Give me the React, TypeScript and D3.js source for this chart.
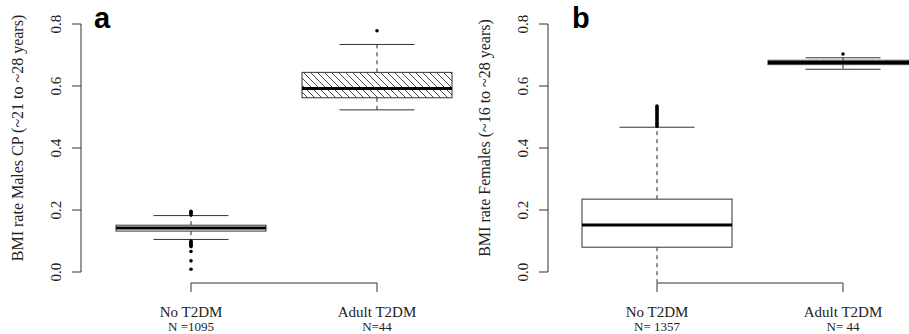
import * as d3 from "d3"

// group labels and counts
const groups = ["No T2DM", "Adult T2DM"]
const malesCounts = ["N =1095", "N=44"]
const femalesCounts = ["N= 1357", "N= 44"]
const yTicks = [0, 0.2, 0.4, 0.6, 0.8]

// five-number summaries: [lower whisker, q1, median, q3, upper whisker]
const malesNoT2dm = [0.105, 0.132, 0.142, 0.151, 0.182]
const malesAdultT2dm = [0.523, 0.562, 0.592, 0.644, 0.734]
const femalesNoT2dm = [-0.06, 0.08, 0.152, 0.235, 0.467]
const femalesAdultT2dm = [0.654, 0.669, 0.676, 0.683, 0.691]

// outliers
const malesNoOut = [0.184, 0.188, 0.192, 0.196, 0.1, 0.097, 0.094, 0.091, 0.088, 0.085, 0.082, 0.066, 0.036, 0.009]
const malesAdultOut = [0.778]
const femalesNoOut = [0.47, 0.475, 0.48, 0.485, 0.49, 0.495, 0.5, 0.505, 0.51, 0.515, 0.52, 0.525, 0.53, 0.535]
const femalesAdultOut = [0.703]

const serif = "'Liberation Serif', 'DejaVu Serif', serif"

type PanelProps = {
  id: string
  letter: string
  title: string
  axisX: number
  xRange: [number, number]
  counts: string[]
  stats: number[][]
  outliers: number[][]
  hatched: boolean[]
  letterX: number
}

function Panel({ id, letter, title, axisX, xRange, counts, stats, outliers, hatched, letterX }: PanelProps) {
  const y = d3.scaleLinear().domain([0, 0.8]).range([272, 24])
  const x = d3.scalePoint<string>().domain(groups).range(xRange)
  const axisY = 283
  const boxW = 150
  const capW = 75
  const line = d3.line<[number, number]>()

  return (
    <g>
      <defs>
        <clipPath id={`clip-${id}`}>
          <rect x={axisX} y={0} width={909} height={axisY - 0.5} />
        </clipPath>
      </defs>

      {/* y axis */}
      <path d={line([[axisX, y(0.8)], [axisX, y(0)]]) || ""} stroke="#333" fill="none" />
      {yTicks.map((t) => (
        <g key={t}>
          <path d={line([[axisX - 9, y(t)], [axisX, y(t)]]) || ""} stroke="#333" />
          <text
            transform={`translate(${axisX - 20},${y(t)}) rotate(-90)`}
            textAnchor="middle"
            fontFamily={serif}
            fontSize={15}
            fill="#222"
          >
            {t.toFixed(1)}
          </text>
        </g>
      ))}
      <text
        transform={`translate(${axisX - 58},138) rotate(-90)`}
        textAnchor="middle"
        fontFamily={serif}
        fontSize={16}
        fill="#222"
      >
        {title}
      </text>

      {/* x axis */}
      <path d={line([[xRange[0], axisY], [xRange[1], axisY]]) || ""} stroke="#333" fill="none" />
      {groups.map((g, i) => (
        <g key={g}>
          <path d={line([[x(g)!, axisY], [x(g)!, axisY + 9]]) || ""} stroke="#333" />
          <text x={x(g)} y={317} textAnchor="middle" fontFamily={serif} fontSize={15} fill="#222">
            {g}
          </text>
          <text x={x(g)} y={331} textAnchor="middle" fontFamily={serif} fontSize={13} fill="#222">
            {counts[i]}
          </text>
        </g>
      ))}

      {/* boxes */}
      <g clipPath={`url(#clip-${id})`}>
        {groups.map((g, i) => {
          const [lo, q1, med, q3, hi] = stats[i]
          const cx = x(g)!
          return (
            <g key={g}>
              <path d={line([[cx, y(q3)], [cx, y(hi)]]) || ""} stroke="#222" strokeDasharray="4,4" />
              <path d={line([[cx, y(q1)], [cx, y(lo)]]) || ""} stroke="#222" strokeDasharray="4,4" />
              <path d={line([[cx - capW / 2, y(hi)], [cx + capW / 2, y(hi)]]) || ""} stroke="#333" />
              <path d={line([[cx - capW / 2, y(lo)], [cx + capW / 2, y(lo)]]) || ""} stroke="#333" />
              <rect
                x={cx - boxW / 2}
                y={y(q3)}
                width={boxW}
                height={y(q1) - y(q3)}
                fill={hatched[i] ? `url(#hatch)` : "#fff"}
                stroke="#333"
                strokeWidth={1}
              />
              <path d={line([[cx - boxW / 2, y(med)], [cx + boxW / 2, y(med)]]) || ""} stroke="#000" strokeWidth={3} />
              {outliers[i].map((o, j) => (
                <circle key={j} cx={cx} cy={y(o)} r={1.8} fill="#000" />
              ))}
            </g>
          )
        })}
      </g>

      <text x={letterX} y={28} fontFamily="'Liberation Sans', Arial, sans-serif" fontWeight="bold" fontSize={29} fill="#000">
        {letter}
      </text>
    </g>
  )
}

export default function App() {
  return (
    <svg width={909} height={334} style={{ position: "absolute", left: 0, top: 0, background: "#fff" }}>
      <defs>
        <pattern id="hatch" patternUnits="userSpaceOnUse" width={7} height={7}>
          <path d="M-1,-1 L8,8 M-1,6 L1,8 M6,-1 L8,1" stroke="#333" strokeWidth={0.9} />
        </pattern>
      </defs>
      <rect width={909} height={334} fill="#fff" />
      <Panel
        id="a"
        letter="a"
        title="BMI rate Males CP (~21 to ~28 years)"
        axisX={81}
        xRange={[191, 377]}
        counts={malesCounts}
        stats={[malesNoT2dm, malesAdultT2dm]}
        outliers={[malesNoOut, malesAdultOut]}
        hatched={[false, true]}
        letterX={94}
      />
      <Panel
        id="b"
        letter="b"
        title="BMI rate Females (~16 to ~28 years)"
        axisX={548}
        xRange={[657, 843]}
        counts={femalesCounts}
        stats={[femalesNoT2dm, femalesAdultT2dm]}
        outliers={[femalesNoOut, femalesAdultOut]}
        hatched={[false, true]}
        letterX={572}
      />
    </svg>
  )
}
